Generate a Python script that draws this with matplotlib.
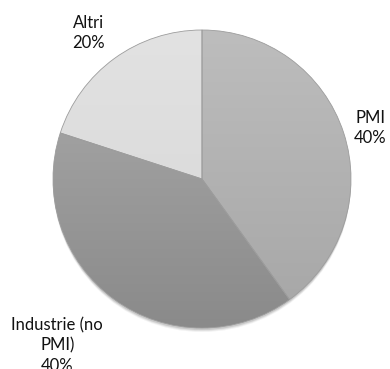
import matplotlib.pyplot as plt
import numpy as np
from matplotlib.patches import Circle

plt.rcParams['font.family'] = ['Lato', 'DejaVu Sans']

# data
labels = ['PMI', 'Industrie (no\nPMI)', 'Altri']
shares = [40, 40, 20]
top_colors = ['#bdbdbd', '#acacac', '#e2e2e2']
bottom_colors = ['#a6a6a6', '#8a8a8a', '#d6d6d6']
label_dist = [1.18, 1.48, 1.24]
label_shift = [-1, -5, 2]  # degrees

W, H = 390, 369
cx, cy, r = 202, H - 179, 149

fig = plt.figure(figsize=(W / 100, H / 100), dpi=100)
ax = fig.add_axes([0, 0, 1, 1])

# soft shadow under the pie
for k, a in zip([4, 3, 2], [0.08, 0.12, 0.18]):
    ax.add_patch(Circle((cx, cy - k), r, color='#606060', alpha=a, lw=0, zorder=0))

wedges, _ = ax.pie(shares, startangle=90, counterclock=False, center=(cx, cy),
                   radius=r, wedgeprops=dict(linewidth=0.6, edgecolor='#9c9c9c'),
                   frame=True)
ax.set_xlim(0, W)
ax.set_ylim(0, H)
ax.set_aspect('equal')
ax.axis('off')


def hex2rgb(h):
    h = h.lstrip('#')
    return np.array([int(h[i:i + 2], 16) / 255 for i in (0, 2, 4)])


t = np.linspace(0, 1, 256)[:, None]
for w, c1, c2 in zip(wedges, top_colors, bottom_colors):
    a, b = hex2rgb(c1), hex2rgb(c2)
    grad = (a[None, :] * (1 - t) + b[None, :] * t)[:, None, :].repeat(2, axis=1)
    im = ax.imshow(grad, extent=(cx - r, cx + r, cy - r, cy + r), origin='upper',
                   aspect='auto', zorder=w.get_zorder() + 0.1)
    im.set_clip_path(w)
    w.set_facecolor('none')
    w.set_zorder(w.get_zorder() + 0.2)

for w, lab, s, d, sh in zip(wedges, labels, shares, label_dist, label_shift):
    mid = np.deg2rad((w.theta1 + w.theta2) / 2 + sh)
    x = cx + d * r * np.cos(mid)
    y = cy + d * r * np.sin(mid)
    ax.text(x, y, f'{lab}\n{s}%', ha='center', va='center', fontsize=12,
            color='#111111', linespacing=1.32)

fig.savefig('out.png', dpi=100)
